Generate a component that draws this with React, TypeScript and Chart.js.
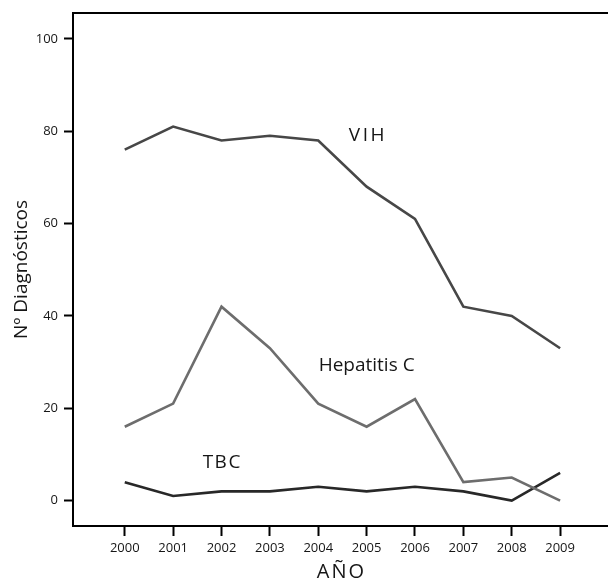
import React, { useEffect, useRef } from "react";
import { Chart, registerables } from "chart.js";

Chart.register(...registerables);

// ---- Data ----
const years = [2000, 2001, 2002, 2003, 2004, 2005, 2006, 2007, 2008, 2009];
const vih = [76, 81, 78, 79, 78, 68, 61, 42, 40, 33];
const hepatitisC = [16, 21, 42, 33, 21, 16, 22, 4, 5, 0];
const tbc = [4, 1, 2, 2, 3, 2, 3, 2, 0, 6];
const yTicks = [0, 20, 40, 60, 80, 100];
const seriesNames = ["VIH", "Hepatitis C", "TBC"];
const seriesColors = ["#474747", "#6d6d6d", "#282828"];
// label anchor positions in data coordinates
const labelYear = [2005, 2005, 2002];
const labelValue = [79, 29.3, 8.2];
const labelSpacing = [2.5, 0, 1.5];
const xTitle = "AÑO";
const yTitle = "Nº Diagnósticos";

const FONT = '"Open Sans", "DejaVu Sans", sans-serif';

const annotatePlugin = {
  id: "annotate",
  afterDraw(chart: any) {
    const { ctx, chartArea, scales } = chart;
    const x = scales.x;
    const y = scales.y;
    ctx.save();
    // top frame line
    ctx.strokeStyle = "#000";
    ctx.lineWidth = 2;
    ctx.beginPath();
    ctx.moveTo(chartArea.left - 1, chartArea.top);
    ctx.lineTo(chartArea.right, chartArea.top);
    ctx.stroke();

    ctx.fillStyle = "#161616";
    ctx.textAlign = "center";
    ctx.textBaseline = "middle";
    ctx.font = `19px ${FONT}`;
    seriesNames.forEach((name, i) => {
      ctx.letterSpacing = `${labelSpacing[i]}px`;
      ctx.fillText(
        name,
        x.getPixelForValue(labelYear[i]) + labelSpacing[i] / 2,
        y.getPixelForValue(labelValue[i])
      );
    });

    // x axis title
    ctx.font = `20px ${FONT}`;
    ctx.letterSpacing = "2px";
    ctx.fillText(xTitle, (chartArea.left + chartArea.right) / 2 + 1, x.bottom - 12);
    ctx.restore();
  },
};

export default function App() {
  const ref = useRef<HTMLCanvasElement | null>(null);

  useEffect(() => {
    if (!ref.current) return;
    const mk = (vals: number[]) => years.map((yr, i) => ({ x: yr, y: vals[i] }));
    const chart = new Chart(ref.current, {
      type: "line",
      data: {
        datasets: [vih, hepatitisC, tbc].map((vals, i) => ({
          label: seriesNames[i],
          data: mk(vals),
          borderColor: seriesColors[i],
          borderWidth: 2.6,
          pointRadius: 0,
          tension: 0,
          fill: false,
        })),
      },
      options: {
        animation: false,
        responsive: false,
        layout: { padding: { top: 13, left: 0, right: 0, bottom: 0 } },
        plugins: { legend: { display: false }, tooltip: { enabled: false } },
        scales: {
          x: {
            type: "linear",
            min: 1998.93,
            max: 2009.99,
            afterBuildTicks: (s: any) => {
              s.ticks = years.map((v) => ({ value: v }));
            },
            afterFit: (s: any) => {
              s.height = 58;
              s.paddingLeft = 0;
              s.paddingRight = 0;
            },
            grid: {
              drawOnChartArea: false,
              drawTicks: true,
              tickLength: 10,
              tickWidth: 2,
              tickColor: "#000",
            },
            border: { display: true, color: "#000", width: 2 },
            ticks: {
              padding: 4,
              color: "#161616",
              font: { family: FONT, size: 13 },
              callback: (v: any) => String(v),
              maxRotation: 0,
              autoSkip: false,
            },
          },
          y: {
            type: "linear",
            min: -5.5,
            max: 105.6,
            afterBuildTicks: (s: any) => {
              s.ticks = yTicks.map((v) => ({ value: v }));
            },
            afterFit: (s: any) => {
              s.width = 73;
              s.paddingTop = 0;
              s.paddingBottom = 0;
            },
            grid: {
              drawOnChartArea: false,
              drawTicks: true,
              tickLength: 9,
              tickWidth: 2,
              tickColor: "#000",
            },
            border: { display: true, color: "#000", width: 2 },
            ticks: {
              padding: 6,
              color: "#161616",
              font: { family: FONT, size: 13 },
              callback: (v: any) => String(v),
            },
            title: {
              display: true,
              text: yTitle,
              color: "#161616",
              font: { family: FONT, size: 19 },
              padding: { top: 10, bottom: 0 },
            },
          },
        },
      },
      plugins: [annotatePlugin],
    });
    return () => chart.destroy();
  }, []);

  return (
    <div style={{ position: "absolute", left: 0, top: 0, width: 608, height: 584, background: "#fff" }}>
      <canvas ref={ref} width={608} height={584} />
    </div>
  );
}
